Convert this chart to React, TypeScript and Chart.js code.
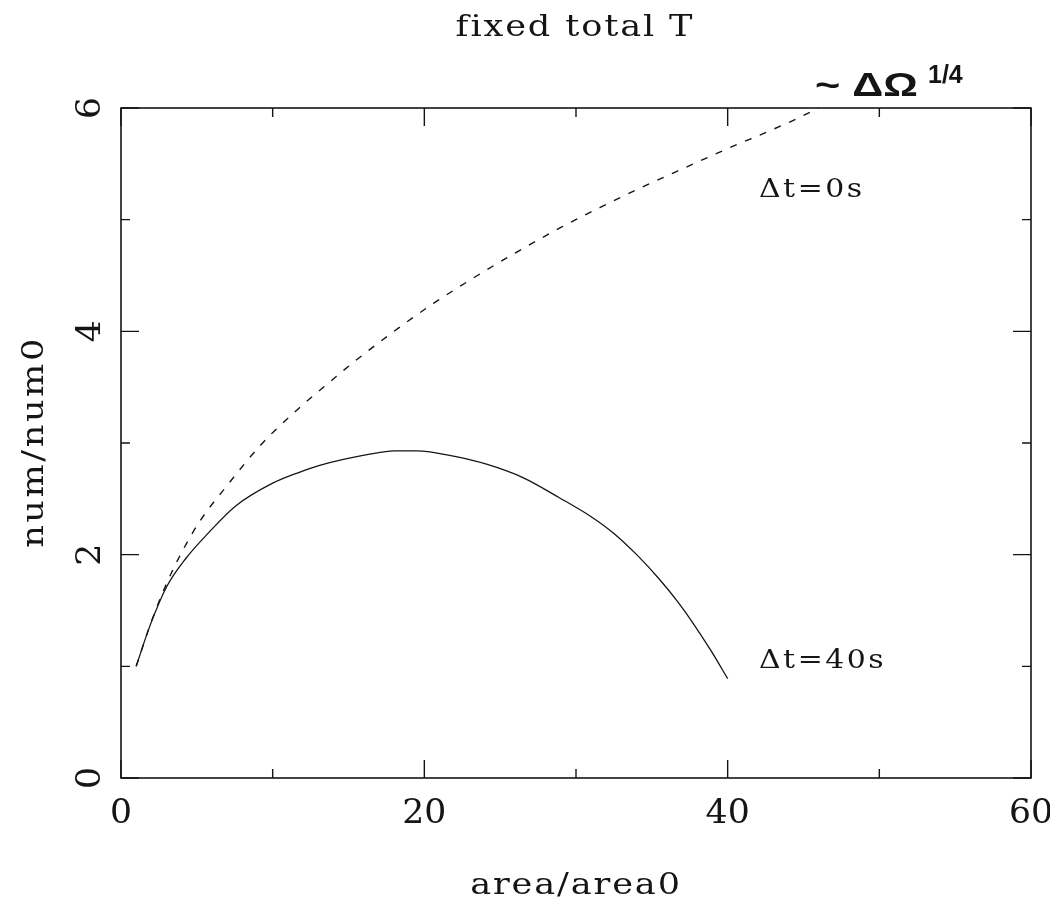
import React, { useEffect, useRef } from "react";
import { Chart, registerables } from "chart.js";

Chart.register(...registerables);

// Δt=0s (dashed) curve
const dt0X = [1, 2, 3, 4, 5.2, 7, 9.2, 11.8, 13.8, 15.3, 18, 20.6, 23.5, 26.1, 29, 31.6, 34.5, 37.1, 40.4, 42.5, 44.5, 46];
const dt0Y = [1, 1.4, 1.74, 2.02, 2.3, 2.62, 2.98, 3.32, 3.55, 3.72, 4.0, 4.25, 4.5, 4.71, 4.93, 5.11, 5.3, 5.46, 5.66, 5.78, 5.9, 6.0];

// Δt=40s (solid) curve
const dt40X = [1, 1.9, 3, 4.3, 5.8, 7.6, 10, 11.8, 13.1, 16.4, 18, 19.5, 22, 24.1, 26.5, 28.9, 31, 32.5, 34, 35.5, 36.7, 37.7, 38.9, 40];
const dt40Y = [1, 1.36, 1.71, 1.97, 2.2, 2.44, 2.64, 2.74, 2.8, 2.9, 2.93, 2.93, 2.88, 2.81, 2.69, 2.51, 2.34, 2.19, 2.0, 1.78, 1.58, 1.39, 1.14, 0.89];

const xTickLabels = ["0", "20", "40", "60"];
const yTickLabels = ["0", "2", "4", "6"];

const titleText = "fixed total T";
const xTitle = "area/area0";
const yTitle = "num/num0";
const label0 = "Δt=0s";
const label40 = "Δt=40s";
const scalingMain = "~ ΔΩ";
const scalingSup = "1/4";

const INK = "#151515";

function drawText(
  ctx: CanvasRenderingContext2D,
  text: string,
  x: number,
  y: number,
  font: string,
  align: CanvasTextAlign,
  opts: { rotate?: number; spacing?: string; scaleX?: number } = {}
) {
  ctx.save();
  ctx.translate(x, y);
  if (opts.rotate) ctx.rotate(opts.rotate);
  if (opts.scaleX) ctx.scale(opts.scaleX, 1);
  ctx.font = font;
  (ctx as any).letterSpacing = opts.spacing || "0px";
  ctx.textAlign = align;
  ctx.textBaseline = "alphabetic";
  ctx.fillStyle = INK;
  ctx.fillText(text, 0, 0);
  ctx.restore();
}

const framePlugin = {
  id: "pgFrame",
  afterDraw(chart: any) {
    const { ctx, chartArea } = chart;
    const { left, right, top, bottom } = chartArea;
    const xs = chart.scales.x;
    const ys = chart.scales.y;
    ctx.save();
    ctx.strokeStyle = INK;
    ctx.lineWidth = 1.6;
    ctx.strokeRect(left, top, right - left, bottom - top);
    ctx.lineWidth = 1.4;
    ctx.beginPath();
    xs.ticks.forEach((t: any) => {
      const px = xs.getPixelForValue(t.value);
      const major = xTickLabels.includes(String(t.value));
      const len = major ? 18 : 9;
      ctx.moveTo(px, bottom);
      ctx.lineTo(px, bottom - len);
      ctx.moveTo(px, top);
      ctx.lineTo(px, top + len);
    });
    ys.ticks.forEach((t: any) => {
      const py = ys.getPixelForValue(t.value);
      const major = yTickLabels.includes(String(t.value));
      const len = major ? 18 : 9;
      ctx.moveTo(left, py);
      ctx.lineTo(left + len, py);
      ctx.moveTo(right, py);
      ctx.lineTo(right - len, py);
    });
    ctx.stroke();
    ctx.restore();

    const tickFont = "33px 'DejaVu Serif'";
    xs.ticks.forEach((t: any) => {
      const s = String(t.value);
      if (!xTickLabels.includes(s)) return;
      drawText(ctx, s, xs.getPixelForValue(t.value), bottom + 45, tickFont, "center", { scaleX: 1.05 });
    });
    ys.ticks.forEach((t: any) => {
      const s = String(t.value);
      if (!yTickLabels.includes(s)) return;
      drawText(ctx, s, left - 21, ys.getPixelForValue(t.value), tickFont, "center", { rotate: -Math.PI / 2, scaleX: 1.05 });
    });

    const cx = (left + right) / 2;
    const lblFont = "30px 'DejaVu Serif'";
    drawText(ctx, titleText, cx - 1, 28, lblFont, "center", { spacing: "1.6px", scaleX: 1.17 });
    drawText(ctx, xTitle, cx, bottom + 116, lblFont, "center", { spacing: "1.6px", scaleX: 1.17 });
    drawText(ctx, yTitle, 35, (top + bottom) / 2 - 1, lblFont, "center", { rotate: -Math.PI / 2, spacing: "2.2px", scaleX: 1.17 });

    const annFont = "26px 'DejaVu Serif'";
    drawText(ctx, label0, 751, 189, annFont, "left", { spacing: "2.2px", scaleX: 1.15 });
    drawText(ctx, label40, 751, 660, annFont, "left", { spacing: "2.2px", scaleX: 1.15 });

    drawText(ctx, scalingMain, 807, 88, "bold 34px 'Liberation Sans'", "left", { scaleX: 1.27 });
    drawText(ctx, scalingSup, 920, 75, "bold 25px 'Liberation Sans'", "left");
  },
};

export default function App() {
  const ref = useRef<HTMLCanvasElement | null>(null);

  useEffect(() => {
    if (!ref.current) return;
    const chart = new Chart(ref.current, {
      type: "line",
      data: {
        datasets: [
          {
            label: label0,
            data: dt0X.map((x, i) => ({ x, y: dt0Y[i] })),
            borderColor: INK,
            borderWidth: 1.4,
            borderDash: [7, 9],
            pointRadius: 0,
            cubicInterpolationMode: "monotone",
            fill: false,
          },
          {
            label: label40,
            data: dt40X.map((x, i) => ({ x, y: dt40Y[i] })),
            borderColor: INK,
            borderWidth: 1.3,
            pointRadius: 0,
            cubicInterpolationMode: "monotone",
            fill: false,
          },
        ],
      },
      options: {
        animation: false,
        responsive: false,
        maintainAspectRatio: false,
        devicePixelRatio: 1,
        layout: { padding: { left: 113, top: 100, right: 19, bottom: 125 } },
        plugins: { legend: { display: false }, tooltip: { enabled: false }, title: { display: false } },
        scales: {
          x: { type: "linear", min: 0, max: 60, display: false, ticks: { stepSize: 10 } },
          y: { type: "linear", min: 0, max: 6, display: false, ticks: { stepSize: 1 } },
        },
      },
      plugins: [framePlugin],
    } as any);
    return () => chart.destroy();
  }, []);

  return (
    <div style={{ width: 1042, height: 895 }}>
      <canvas ref={ref} width={1042} height={895} style={{ display: "block", width: 1042, height: 895 }} />
    </div>
  );
}
